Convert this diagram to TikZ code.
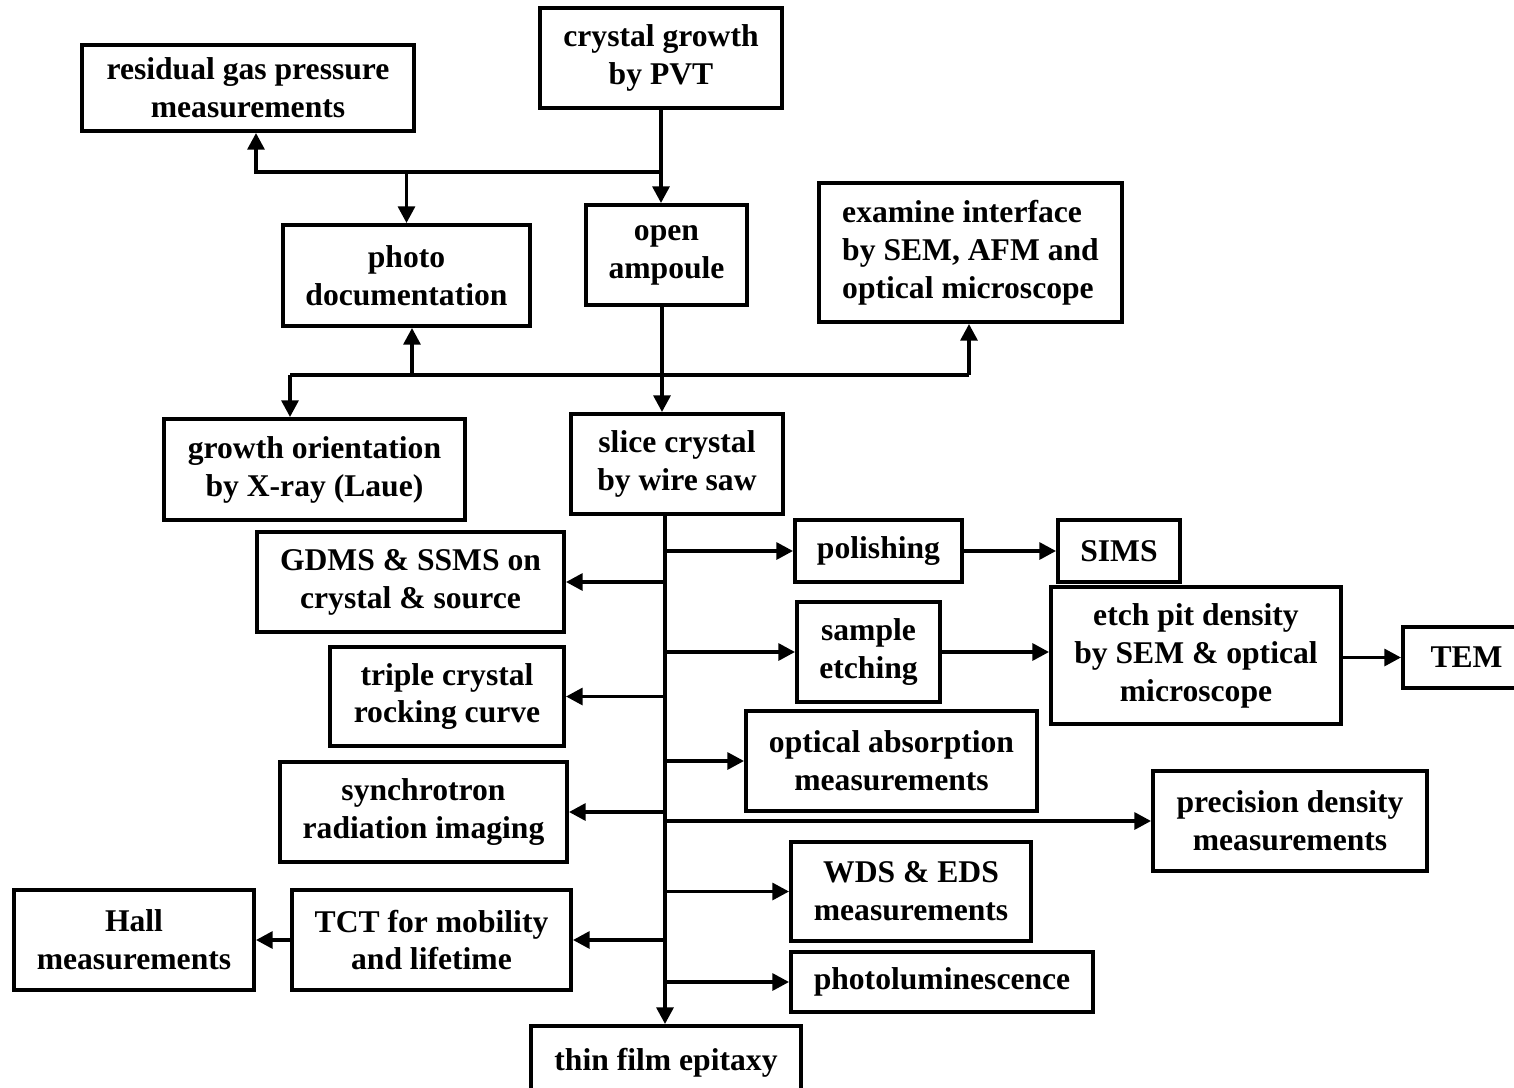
\documentclass[tikz,border=0pt]{standalone}
\usepackage{fontspec}
\setmainfont{Liberation Serif}
\usetikzlibrary{arrows.meta}

\tikzset{
    box/.style={draw, line width=2.2pt, align=center, inner sep=0pt, font=\bfseries\fontsize{18}{21.6}\selectfont},
    link/.style={line width=2.2pt},
    arr/.style={line width=2.2pt, -{Triangle[length=9.5pt,width=9.5pt]}}
}

\begin{document}
\begin{tikzpicture}[x=0.02cm, y=-0.02cm]
    \useasboundingbox (0, 0) rectangle (1514, 1088);

    \node[box, minimum width=6.64cm, minimum height=1.72cm] (gas) at (248, 88) {residual gas pressure\\measurements};
    \node[box, minimum width=4.84cm, minimum height=2.0cm] (pvt) at (661, 58) {crystal growth\\by PVT};
    \node[box, minimum width=4.94cm, minimum height=2.02cm] (photo) at (406.5, 275.5) {photo\\documentation};
    \node[box, minimum width=3.22cm, minimum height=2.0cm] (ampoule) at (666.5, 255) {open\\ampoule};
    \node[box, minimum width=6.06cm, minimum height=2.78cm, align=left] (sem) at (970.5, 252.5) {examine interface\\by SEM, AFM and\\optical microscope};
    \node[box, minimum width=6.02cm, minimum height=2.02cm] (laue) at (314.5, 469.5) {growth orientation\\by X-ray (Laue)};
    \node[box, minimum width=4.24cm, minimum height=2.0cm] (saw) at (677, 464) {slice crystal\\by wire saw};

    \node[box, minimum width=3.34cm, minimum height=1.24cm] (polish) at (878.5, 551) {polishing};
    \node[box, minimum width=2.44cm, minimum height=1.24cm] (sims) at (1119, 551) {SIMS};
    \node[box, minimum width=6.14cm, minimum height=2.0cm] (gdms) at (410.5, 582) {GDMS \& SSMS on\\crystal \& source};
    \node[box, minimum width=2.86cm, minimum height=2.0cm] (etch) at (868.5, 652) {sample\\etching};
    \node[box, minimum width=5.8cm, minimum height=2.74cm] (epd) at (1196, 655.5) {etch pit density\\by SEM \& optical\\microscope};
    \node[box, minimum width=2.54cm, minimum height=1.22cm] (tem) at (1466.5, 657.5) {TEM};
    \node[box, minimum width=4.68cm, minimum height=1.98cm] (rocking) at (447, 696.5) {triple crystal\\rocking curve};
    \node[box, minimum width=5.82cm, minimum height=2.0cm] (absorb) at (891.5, 761) {optical absorption\\measurements};
    \node[box, minimum width=5.74cm, minimum height=2.0cm] (synch) at (423.5, 812) {synchrotron\\radiation imaging};
    \node[box, minimum width=5.48cm, minimum height=2.0cm] (density) at (1290, 821) {precision density\\measurements};
    \node[box, minimum width=4.8cm, minimum height=1.98cm] (wds) at (911, 891.5) {WDS \& EDS\\measurements};
    \node[box, minimum width=4.8cm, minimum height=2.0cm] (hall) at (134, 940) {Hall\\measurements};
    \node[box, minimum width=5.58cm, minimum height=2.0cm] (tct) at (431.5, 940) {TCT for mobility\\and lifetime};
    \node[box, minimum width=6.04cm, minimum height=1.2cm] (pl) at (942, 982) {photoluminescence};
    \node[box, minimum width=5.4cm, minimum height=1.48cm] (film) at (666, 1063) {thin film epitaxy};

    % junctions
    \coordinate (j1) at (661, 172);
    \coordinate (j2) at (256, 172);
    \coordinate (j3) at (662, 375);
    \coordinate (j4) at (290, 375);
    \coordinate (j5) at (969, 375);
    \coordinate (j6) at (412, 375);
    \coordinate (top) at (665, 514);

    % top part
    \draw[arr] (pvt.south -| j1) -- (ampoule.north -| j1);
    \draw[arr] (j1) -- (j2) -- (j2 |- gas.south);
    \draw[arr] (photo.north |- j1) -- (photo.north);
    \draw[arr] (ampoule.south -| j3) -- (saw.north -| j3);
    \draw[link] (j4) -- (j5);
    \draw[arr] (j4) -- (j4 |- laue.north);
    \draw[arr] (j6) -- (j6 |- photo.south);
    \draw[arr] (j5) -- (j5 |- sem.south);

    % spine
    \draw[arr] (top) -- (top |- film.north);
    \draw[arr] (polish.west -| top) -- (polish.west);
    \draw[arr] (etch.west -| top) -- (etch.west);
    \draw[arr] (absorb.west -| top) -- (absorb.west);
    \draw[arr] (density.west -| top) -- (density.west);
    \draw[arr] (wds.west -| top) -- (wds.west);
    \draw[arr] (pl.west -| top) -- (pl.west);
    \draw[arr] (gdms.east -| top) -- (gdms.east);
    \draw[arr] (rocking.east -| top) -- (rocking.east);
    \draw[arr] (synch.east -| top) -- (synch.east);
    \draw[arr] (tct.east -| top) -- (tct.east);

    % side chains
    \draw[arr] (polish) -- (sims);
    \draw[arr] (etch) -- (etch -| epd.west);
    \draw[arr] (epd.east |- tem) -- (tem);
    \draw[arr] (tct) -- (hall);
\end{tikzpicture}
\end{document}
